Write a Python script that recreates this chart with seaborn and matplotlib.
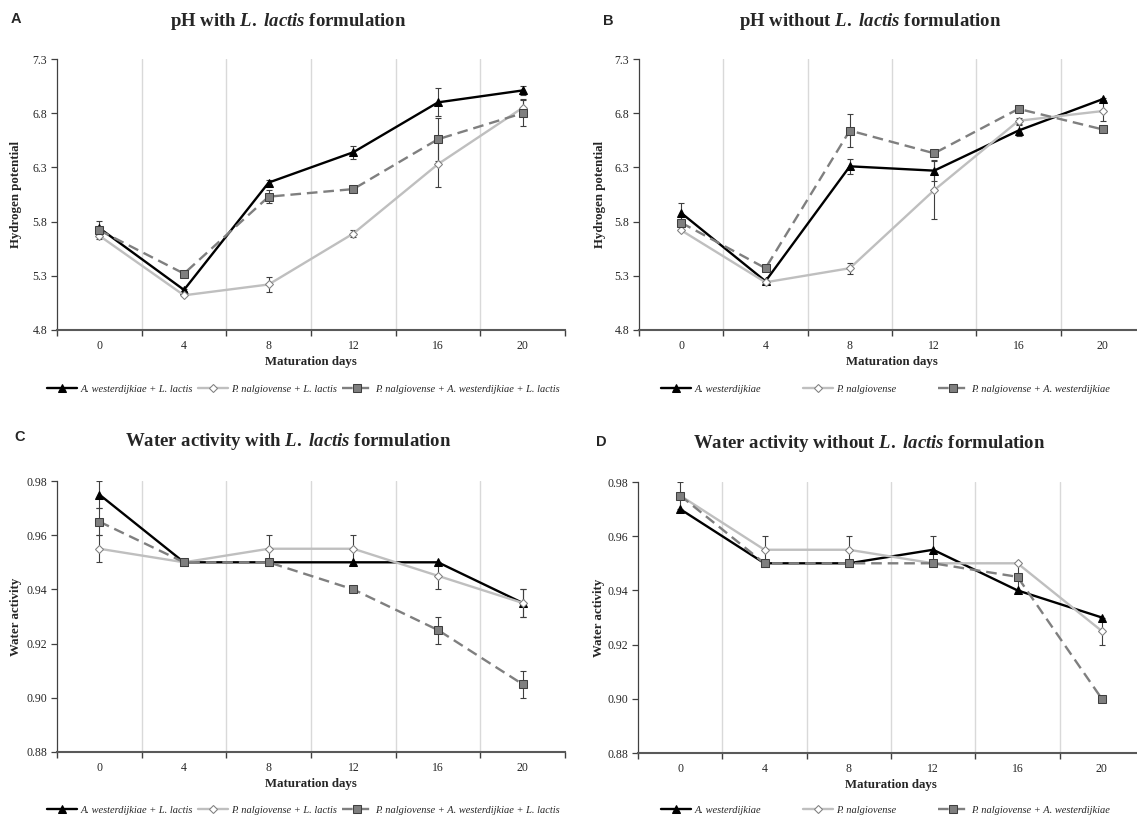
import numpy as np
import pandas as pd
import matplotlib
matplotlib.use("Agg")
import matplotlib.pyplot as plt
import seaborn as sns

# ---- data ----
days = [0, 4, 8, 12, 16, 20]

# pH with L. lactis
ph_with_aw = [5.74, 5.17, 6.16, 6.44, 6.90, 7.01]
ph_with_aw_err = [0.07, 0.01, 0.02, 0.06, 0.13, 0.04]
ph_with_pn = [5.67, 5.12, 5.22, 5.69, 6.33, 6.85]
ph_with_pn_err = [0.03, 0.01, 0.07, 0.03, 0.21, 0.08]
ph_with_mix = [5.72, 5.32, 6.03, 6.10, 6.56, 6.80]
ph_with_mix_err = [0.03, 0.0, 0.06, 0.03, 0.20, 0.12]

# pH without L. lactis
ph_wo_aw = [5.88, 5.25, 6.31, 6.27, 6.64, 6.93]
ph_wo_aw_err = [0.09, 0.01, 0.07, 0.10, 0.05, 0.01]
ph_wo_pn = [5.72, 5.24, 5.37, 6.09, 6.73, 6.82]
ph_wo_pn_err = [0.01, 0.01, 0.05, 0.27, 0.03, 0.09]
ph_wo_mix = [5.79, 5.37, 6.64, 6.43, 6.84, 6.65]
ph_wo_mix_err = [0.03, 0.01, 0.15, 0.01, 0.02, 0.01]

# water activity with L. lactis
aw_with_aw = [0.975, 0.950, 0.950, 0.950, 0.950, 0.935]
aw_with_aw_err = [0.005, 0, 0, 0, 0, 0.005]
aw_with_pn = [0.955, 0.950, 0.955, 0.955, 0.945, 0.935]
aw_with_pn_err = [0.005, 0, 0.005, 0.005, 0.005, 0.005]
aw_with_mix = [0.965, 0.950, 0.950, 0.940, 0.925, 0.905]
aw_with_mix_err = [0.005, 0, 0, 0, 0.005, 0.005]

# water activity without L. lactis
aw_wo_aw = [0.970, 0.950, 0.950, 0.955, 0.940, 0.930]
aw_wo_aw_err = [0, 0, 0, 0.005, 0, 0]
aw_wo_pn = [0.975, 0.955, 0.955, 0.950, 0.950, 0.925]
aw_wo_pn_err = [0, 0.005, 0.005, 0, 0, 0.005]
aw_wo_mix = [0.975, 0.950, 0.950, 0.950, 0.945, 0.900]
aw_wo_mix_err = [0.005, 0, 0, 0, 0.005, 0]

labels_with = ["A. westerdijkiae + L. lactis", "P. nalgiovense + L. lactis",
               "P. nalgiovense + A. westerdijkiae + L. lactis"]
labels_wo = ["A. westerdijkiae", "P. nalgiovense", "P. nalgiovense + A. westerdijkiae"]

ph_ticks = [4.8, 5.3, 5.8, 6.3, 6.8, 7.3]
aw_ticks = [0.88, 0.90, 0.92, 0.94, 0.96, 0.98]

# ---- style ----
sns.set_theme(style="white")
plt.rcParams['font.family'] = ['Liberation Serif', 'DejaVu Serif']
plt.rcParams['mathtext.fontset'] = 'custom'
plt.rcParams['mathtext.rm'] = 'Liberation Serif:bold'
plt.rcParams['mathtext.bf'] = 'Liberation Serif:bold'
plt.rcParams['mathtext.it'] = 'Liberation Serif:bold:italic'

series_style = [
    dict(color='black', marker='^', markersize=5.5, markerfacecolor='black',
         markeredgecolor='black', linestyle='-', linewidth=1.7),
    dict(color='#BFBFBF', marker='D', markersize=4, markerfacecolor='white',
         markeredgecolor='#7F7F7F', linestyle='-', linewidth=1.7),
    dict(color='#7F7F7F', marker='s', markersize=6, markerfacecolor='#7F7F7F',
         markeredgecolor='#3F3F3F', linestyle=(0, (4.5, 2.5)), linewidth=1.7),
]

W, H = 1137, 818
fig = plt.figure(figsize=(W / 100, H / 100), dpi=100)


def px_axes(left, right, top, bottom):
    return fig.add_axes([left / W, 1 - bottom / H, (right - left) / W, (bottom - top) / H])


LL = r"$\mathit{L.}$ $\mathit{lactis}$"

panels = [
    dict(box=(57, 565, 59, 330), letter="A", lpos=(16, 19),
         title="pH with " + LL + " formulation", tpos=(288, 21),
         series=[(ph_with_aw, ph_with_aw_err), (ph_with_pn, ph_with_pn_err), (ph_with_mix, ph_with_mix_err)],
         labels=labels_with, ylabel="Hydrogen potential", yticks=ph_ticks, fmt="{:.1f}",
         ylab_x=22, leg=(47, 560, 389)),
    dict(box=(639, 1145, 59, 330), letter="B", lpos=(608, 21),
         title="pH without " + LL + " formulation", tpos=(870, 21),
         series=[(ph_wo_aw, ph_wo_aw_err), (ph_wo_pn, ph_wo_pn_err), (ph_wo_mix, ph_wo_mix_err)],
         labels=labels_wo, ylabel="Hydrogen potential", yticks=ph_ticks, fmt="{:.1f}",
         ylab_x=606, leg=(661, 1110, 389)),
    dict(box=(57, 565, 481, 752), letter="C", lpos=(20, 437),
         title="Water activity with " + LL + " formulation", tpos=(288, 442),
         series=[(aw_with_aw, aw_with_aw_err), (aw_with_pn, aw_with_pn_err), (aw_with_mix, aw_with_mix_err)],
         labels=labels_with, ylabel="Water activity", yticks=aw_ticks, fmt="{:.2f}",
         ylab_x=22, leg=(47, 560, 810)),
    dict(box=(638, 1144, 482, 753), letter="D", lpos=(601, 442),
         title="Water activity without " + LL + " formulation", tpos=(869, 443),
         series=[(aw_wo_aw, aw_wo_aw_err), (aw_wo_pn, aw_wo_pn_err), (aw_wo_mix, aw_wo_mix_err)],
         labels=labels_wo, ylabel="Water activity", yticks=aw_ticks, fmt="{:.2f}",
         ylab_x=605, leg=(661, 1110, 810)),
]

for p in panels:
    ax = px_axes(*p['box'])
    left = p['box'][0]
    width = p['box'][1] - p['box'][0]

    # light vertical separators between categories
    for g in [2, 6, 10, 14, 18]:
        ax.axvline(g, color='#D9D9D9', linewidth=1.0, zorder=0)

    for (vals, errs), lab, st in zip(p['series'], p['labels'], series_style):
        df = pd.DataFrame({'day': days, 'value': vals, 'err': errs})
        e = df[df['err'] > 0]
        ax.errorbar(e['day'], e['value'], yerr=e['err'], fmt='none', ecolor='#3F3F3F',
                    elinewidth=0.8, capsize=2.4, capthick=0.8, zorder=2)
        sns.lineplot(data=df, x='day', y='value', ax=ax, label=lab, zorder=3, **st)

    ax.set_xlim(-2, 22)
    ax.set_ylim(p['yticks'][0], p['yticks'][-1])
    ax.set_xticks([-2, 2, 6, 10, 14, 18, 22])
    ax.set_xticklabels([])
    ax.set_xticks(days, minor=True)
    ax.set_xticklabels([str(d) for d in days], minor=True, fontsize=8.5)
    ax.tick_params(axis='x', which='major', direction='out', length=4, width=1.0,
                   color='#404040', bottom=True)
    ax.tick_params(axis='x', which='minor', length=0, pad=7)
    ax.set_yticks(p['yticks'])
    ax.set_yticklabels([p['fmt'].format(t) for t in p['yticks']], fontsize=8.5)
    ax.tick_params(axis='y', direction='out', length=4, width=0.9, color='#404040',
                   left=True, pad=3)

    for s in ['top', 'right']:
        ax.spines[s].set_visible(False)
    ax.spines['left'].set_color('#404040')
    ax.spines['left'].set_linewidth(0.9)
    ax.spines['bottom'].set_color('#595959')
    ax.spines['bottom'].set_linewidth(1.5)

    ax.set_xlabel("Maturation days", fontsize=9.3, fontweight='bold', labelpad=3)
    ax.set_ylabel(p['ylabel'], fontsize=9.3, fontweight='bold')
    ax.yaxis.set_label_coords((p['ylab_x'] - left) / width, 0.5)

    lx0, lx1, ly = p['leg']
    ax.legend(loc='center', bbox_to_anchor=(lx0 / W, 1 - ly / H, (lx1 - lx0) / W, 0.0),
              bbox_transform=fig.transFigure, mode='expand', ncol=3, frameon=False,
              prop={'family': 'Liberation Serif', 'style': 'italic', 'size': 7.5},
              handlelength=2.9, handletextpad=0.3, borderpad=0, borderaxespad=0,
              numpoints=1)

    fig.text(p['tpos'][0] / W, 1 - p['tpos'][1] / H, p['title'], ha='center', va='center',
             fontsize=13.5, fontweight='bold', family='Liberation Serif')
    fig.text(p['lpos'][0] / W, 1 - p['lpos'][1] / H, p['letter'], ha='center', va='center',
             fontsize=10.5, fontweight='bold', family=['Liberation Sans', 'DejaVu Sans'])

fig.savefig('out.png', dpi=100)
